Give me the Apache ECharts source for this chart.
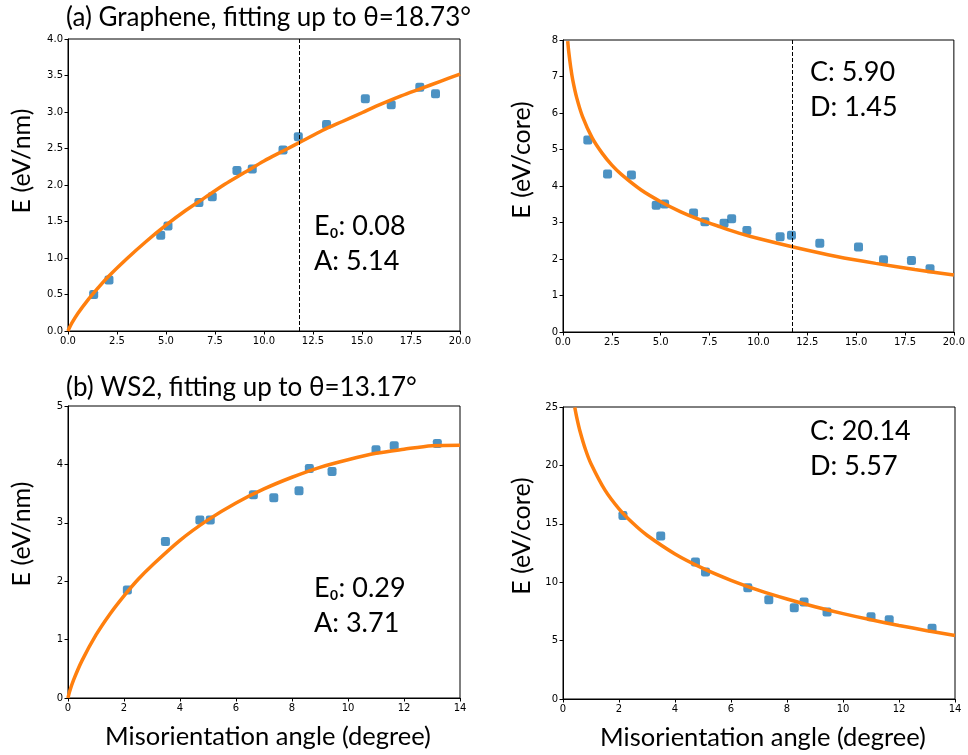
<!DOCTYPE html>
<html>
<head>
<meta charset="utf-8">
<script src="https://cdn.jsdelivr.net/npm/echarts@6/dist/echarts.min.js"></script>
<style>html,body{margin:0;padding:0;background:#fff;}#c{width:968px;height:755px;}</style>
</head>
<body>
<div id="c"></div>
<script>
// Panel (a) graphene, E (eV/nm)
const aPtsX = [1.31, 2.09, 4.73, 5.10, 6.68, 7.36, 8.62, 9.40, 10.97, 11.75, 13.19, 15.17, 16.49, 17.95, 18.75];
const aPtsY = [0.50, 0.70, 1.31, 1.44, 1.76, 1.84, 2.20, 2.22, 2.48, 2.66, 2.83, 3.18, 3.10, 3.34, 3.25];
const aFitX = [0, 0.05, 0.2, 0.5, 1, 1.5, 2, 3, 4, 5, 6, 7, 8, 9, 10, 11, 12, 13, 14, 15, 16, 17, 18, 19, 20];
const aFitY = [0, 0.03, 0.11, 0.24, 0.42, 0.58, 0.73, 0.99, 1.23, 1.45, 1.65, 1.83, 2.01, 2.17, 2.33, 2.47, 2.61, 2.75, 2.87, 2.99, 3.11, 3.22, 3.32, 3.42, 3.52];
// Panel (a) graphene, E (eV/core)
const bPtsX = [1.27, 2.28, 3.50, 4.77, 5.20, 6.68, 7.26, 8.24, 8.63, 9.41, 11.11, 11.69, 13.14, 15.12, 16.40, 17.83, 18.78];
const bPtsY = [5.26, 4.33, 4.30, 3.47, 3.51, 3.26, 3.02, 2.98, 3.10, 2.78, 2.61, 2.65, 2.43, 2.33, 1.98, 1.96, 1.73];
const bFitX = [0.24, 0.3, 0.4, 0.5, 0.7, 1, 1.5, 2, 2.5, 3, 4, 5, 6, 7, 8, 9, 10, 12, 14, 16, 18, 20];
const bFitY = [7.97, 7.65, 7.23, 6.90, 6.42, 5.90, 5.31, 4.90, 4.57, 4.31, 3.89, 3.57, 3.30, 3.08, 2.89, 2.71, 2.56, 2.30, 2.07, 1.88, 1.71, 1.56];
// Panel (b) WS2, E (eV/nm)
const cPtsX = [2.12, 3.48, 4.71, 5.08, 6.62, 7.35, 8.25, 8.62, 9.43, 11.00, 11.65, 13.19];
const cPtsY = [1.85, 2.68, 3.05, 3.05, 3.48, 3.43, 3.55, 3.93, 3.88, 4.25, 4.32, 4.36];
const cFitX = [0, 0.05, 0.2, 0.5, 1, 1.5, 2, 2.5, 3, 4, 5, 6, 7, 8, 9, 10, 11, 12, 13, 14];
const cFitY = [0, 0.10, 0.31, 0.64, 1.08, 1.44, 1.75, 2.03, 2.27, 2.70, 3.05, 3.34, 3.58, 3.78, 3.95, 4.08, 4.19, 4.26, 4.32, 4.33];
// Panel (b) WS2, E (eV/core)
const dPtsX = [2.14, 3.49, 4.73, 5.09, 6.60, 7.35, 8.26, 8.61, 9.43, 11.00, 11.65, 13.18];
const dPtsY = [15.70, 13.96, 11.73, 10.87, 9.53, 8.50, 7.82, 8.30, 7.45, 7.05, 6.79, 6.05];
const dFitX = [0.42, 0.5, 0.6, 0.8, 1, 1.5, 2, 2.5, 3, 4, 5, 6, 7, 8, 9, 10, 11, 12, 13, 14];
const dFitY = [24.97, 24.00, 22.99, 21.38, 20.14, 17.88, 16.28, 15.04, 14.02, 12.42, 11.18, 10.16, 9.30, 8.56, 7.90, 7.31, 6.78, 6.30, 5.85, 5.44];
// cutoff lines
const aCut = 11.80;
const bCut = 11.74;
// text
const titleA = '(a) Graphene, fitting up to θ=18.73°';
const titleB = '(b) WS2, fitting up to θ=13.17°';
const yLabNm = 'E (eV/nm)';
const yLabCore = 'E (eV/core)';
const xLab = 'Misorientation angle (degree)';
const annA = ['E₀: 0.08', 'A: 5.14'];
const annB = ['C: 5.90', 'D: 1.45'];
const annC = ['E₀: 0.29', 'A: 3.71'];
const annD = ['C: 20.14', 'D: 5.57'];

const zip = (xs, ys) => xs.map((x, i) => [x, ys[i]]);
const BLUE = '#1f77b4', ORANGE = '#ff7f0e';
const TXT = 'Lato, "Open Sans", sans-serif';

const grids = [
  {left: 68, top: 39, width: 392, height: 292},
  {left: 563, top: 40, width: 392, height: 292},
  {left: 68, top: 406, width: 392, height: 292},
  {left: 563, top: 407, width: 392, height: 292}
].map(g => Object.assign({show: true, borderColor: '#000', borderWidth: 1, backgroundColor: 'transparent'}, g));

function ax(i, max, interval, dec) {
  return {
    type: 'value', gridIndex: i, min: 0, max: max, interval: interval,
    axisLine: {show: true, onZero: false, lineStyle: {color: '#000', width: 1}},
    axisTick: {show: true, length: 3.5, lineStyle: {color: '#000'}},
    splitLine: {show: false},
    axisLabel: {color: '#000', fontFamily: 'DejaVu Sans', fontSize: 10, margin: 5,
      formatter: v => dec ? v.toFixed(1) : String(v)}
  };
}

function scatter(i, xs, ys) {
  return {type: 'scatter', xAxisIndex: i, yAxisIndex: i, data: zip(xs, ys), symbol: 'roundRect',
    symbolSize: 9, itemStyle: {color: BLUE}, z: 3, silent: true};
}
function fit(i, xs, ys, cut) {
  const s = {type: 'line', xAxisIndex: i, yAxisIndex: i, data: zip(xs, ys), smooth: 0.3, showSymbol: false,
    lineStyle: {color: ORANGE, width: 3.5}, z: 4, clip: true, silent: true};
  if (cut !== undefined) {
    s.markLine = {silent: true, symbol: 'none', label: {show: false},
      lineStyle: {color: '#000', type: [4, 2], width: 1}, data: [{xAxis: cut}]};
  }
  return s;
}

function txt(x, y, text, size, opts) {
  return {type: 'text', x: x, y: y, z: 10,
    style: Object.assign({text: text, fill: '#000', font: size + 'px ' + TXT, align: 'left', verticalAlign: 'middle'}, opts || {})};
}
function vtxt(x, y, text, size) {
  return {type: 'text', x: x, y: y, rotation: Math.PI / 2, z: 10,
    style: {text: text, fill: '#000', font: size + 'px ' + TXT, align: 'center', verticalAlign: 'middle'}};
}

const chart = echarts.init(document.getElementById('c'), null, {renderer: 'canvas'});
chart.setOption({
  animation: false,
  backgroundColor: '#fff',
  grid: grids,
  xAxis: [ax(0, 20, 2.5, true), ax(1, 20, 2.5, true), ax(2, 14, 2, false), ax(3, 14, 2, false)],
  yAxis: [ax(0, 4, 0.5, true), ax(1, 8, 1, false), ax(2, 5, 1, false), ax(3, 25, 5, false)],
  series: [
    scatter(0, aPtsX, aPtsY), fit(0, aFitX, aFitY, aCut),
    scatter(1, bPtsX, bPtsY), fit(1, bFitX, bFitY, bCut),
    scatter(2, cPtsX, cPtsY), fit(2, cFitX, cFitY),
    scatter(3, dPtsX, dPtsY), fit(3, dFitX, dFitY)
  ],
  graphic: [
    txt(66, 18, titleA, 26),
    txt(66, 388, titleB, 26),
    vtxt(22, 161, yLabNm, 25),
    vtxt(522, 160, yLabCore, 25),
    vtxt(22, 534, yLabNm, 25),
    vtxt(522, 536, yLabCore, 25),
    txt(268, 737, xLab, 25.5, {align: 'center'}),
    txt(763, 738, xLab, 25.5, {align: 'center'}),
    txt(314, 226, annA[0], 27), txt(314, 261, annA[1], 27),
    txt(810, 72, annB[0], 27), txt(810, 107, annB[1], 27),
    txt(314, 588, annC[0], 27), txt(314, 623, annC[1], 27),
    txt(810, 431, annD[0], 27), txt(810, 466, annD[1], 27)
  ]
});
</script>
</body>
</html>
